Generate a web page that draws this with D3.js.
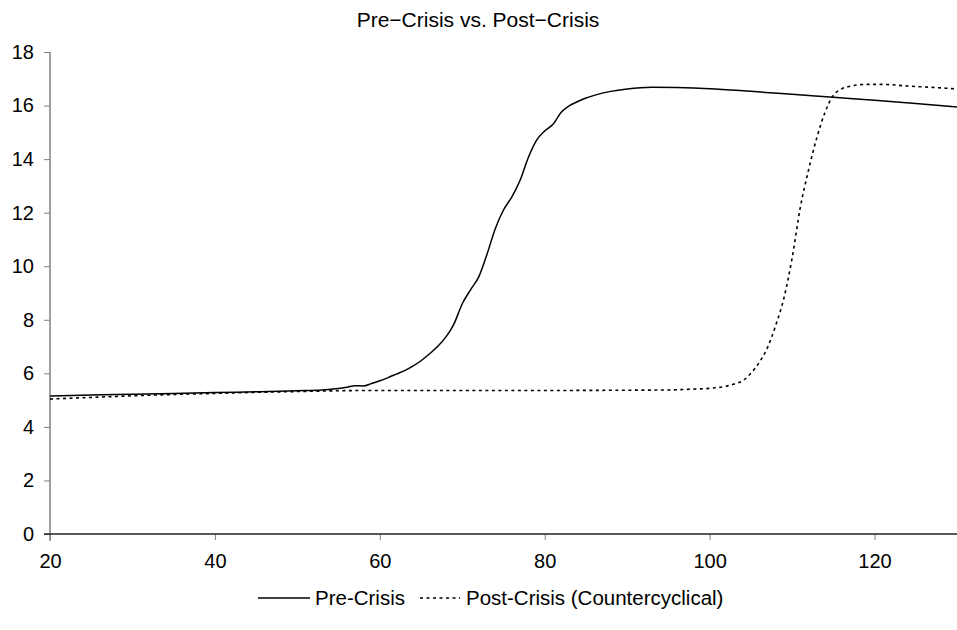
<!DOCTYPE html>
<html>
<head>
<meta charset="utf-8">
<script src="https://cdn.jsdelivr.net/npm/d3@7"></script>
<style>
  html, body { margin: 0; padding: 0; background: #fff; }
  svg { display: block; font-family: "Liberation Sans", Arial, Helvetica, sans-serif; }
</style>
</head>
<body>
<svg id="chart" width="957" height="630"></svg>
<script>
const title = "Pre\u2212Crisis vs. Post\u2212Crisis";
const seriesNames = ["Pre-Crisis", "Post-Crisis (Countercyclical)"];
const xTicks = [20, 40, 60, 80, 100, 120];
const yTicks = [0, 2, 4, 6, 8, 10, 12, 14, 16, 18];

const preX = [20, 25, 30, 35, 40, 45, 50, 53, 55, 56, 57, 58, 59, 60, 61, 62, 63, 64, 65, 66, 67, 68, 69, 70, 71, 72, 73, 74, 75, 76, 77, 78, 79, 80, 81, 82, 83, 84, 85, 86, 88, 90, 93, 96, 100, 105, 110, 115, 120, 125, 130];
const preY = [5.15, 5.19, 5.22, 5.25, 5.28, 5.31, 5.35, 5.38, 5.43, 5.48, 5.54, 5.53, 5.62, 5.72, 5.84, 5.97, 6.1, 6.27, 6.47, 6.72, 7.0, 7.35, 7.85, 8.6, 9.12, 9.6, 10.45, 11.4, 12.1, 12.58, 13.2, 14.05, 14.7, 15.05, 15.3, 15.75, 16.0, 16.15, 16.28, 16.38, 16.53, 16.62, 16.68, 16.67, 16.63, 16.53, 16.42, 16.31, 16.2, 16.08, 15.95];

const postX = [20, 25, 30, 35, 40, 45, 50, 55, 60, 70, 80, 90, 95, 98, 100, 102, 103, 104, 105, 106, 107, 108, 109, 110, 111, 112, 113, 114, 115, 116, 117, 119, 121, 124, 127, 130];
const postY = [5.04, 5.1, 5.16, 5.21, 5.25, 5.29, 5.32, 5.35, 5.36, 5.36, 5.36, 5.37, 5.38, 5.41, 5.44, 5.52, 5.6, 5.72, 6.0, 6.4, 6.95, 7.78, 8.8, 10.3, 12.2, 13.6, 14.8, 15.75, 16.38, 16.62, 16.72, 16.79, 16.79, 16.73, 16.68, 16.62];

const svg = d3.select("#chart");
const x = d3.scaleLinear().domain([20, 130]).range([50, 957]);
const y = d3.scaleLinear().domain([0, 18]).range([534, 52]);

// Title
svg.append("text")
  .attr("x", 478).attr("y", 27)
  .attr("text-anchor", "middle")
  .attr("font-size", 21)
  .attr("fill", "#000")
  .text(title);

// Y axis
const yAxis = svg.append("g")
  .attr("transform", "translate(50,0)")
  .call(d3.axisLeft(y).tickValues(yTicks).tickSize(6).tickPadding(10).tickFormat(d3.format("d")));
yAxis.select(".domain").remove();
yAxis.selectAll(".tick line").attr("stroke", "#808080");
yAxis.selectAll(".tick text").attr("font-size", 20).attr("fill", "#000")
  .attr("font-family", "Liberation Sans, Arial, sans-serif");
svg.append("line")
  .attr("x1", 50).attr("x2", 50).attr("y1", y(18)).attr("y2", y(0) + 7)
  .attr("stroke", "#808080").attr("stroke-width", 1.5);

// X axis
const xAxis = svg.append("g")
  .attr("transform", `translate(0,${y(0)})`)
  .call(d3.axisBottom(x).tickValues(xTicks).tickSize(6).tickPadding(14).tickFormat(d3.format("d")));
xAxis.select(".domain").remove();
xAxis.selectAll(".tick line").attr("stroke", "#808080");
xAxis.selectAll(".tick text").attr("font-size", 20).attr("fill", "#000")
  .attr("font-family", "Liberation Sans, Arial, sans-serif");
svg.append("line")
  .attr("x1", 44).attr("x2", 957).attr("y1", y(0)).attr("y2", y(0))
  .attr("stroke", "#222").attr("stroke-width", 1.5);

// Lines
const line = d3.line().x(d => x(d[0])).y(d => y(d[1])).curve(d3.curveMonotoneX);
const preData = preX.map((v, i) => [v, preY[i]]);
const postData = postX.map((v, i) => [v, postY[i]]);

svg.append("path").datum(postData)
  .attr("d", line).attr("fill", "none")
  .attr("stroke", "#000").attr("stroke-width", 1.6)
  .attr("stroke-dasharray", "3,3.5");
svg.append("path").datum(preData)
  .attr("d", line).attr("fill", "none")
  .attr("stroke", "#000").attr("stroke-width", 1.5);

// Legend
const ly = 598;
const leg = svg.append("g");
leg.append("line").attr("x1", 258).attr("x2", 310).attr("y1", ly).attr("y2", ly)
  .attr("stroke", "#000").attr("stroke-width", 1.5);
leg.append("text").attr("x", 315).attr("y", ly).attr("dy", "0.35em")
  .attr("font-size", 20.5).text(seriesNames[0]);
leg.append("line").attr("x1", 420).attr("x2", 460).attr("y1", ly).attr("y2", ly)
  .attr("stroke", "#000").attr("stroke-width", 1.6).attr("stroke-dasharray", "3,3.5");
leg.append("text").attr("x", 466).attr("y", ly).attr("dy", "0.35em")
  .attr("font-size", 20.5).text(seriesNames[1]);
</script>
</body>
</html>
